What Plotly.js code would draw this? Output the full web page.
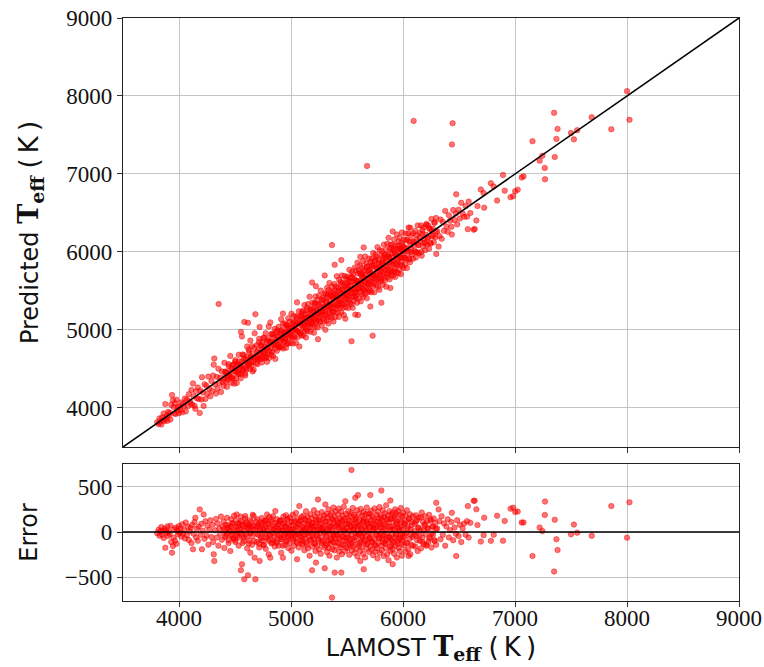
<!DOCTYPE html>
<html><head><meta charset="utf-8">
<script src="https://cdn.plot.ly/plotly-3.0.1.min.js"></script>
<style>html,body{margin:0;padding:0;background:#fff}#chart{width:764px;height:667px}</style>
</head><body><div id="chart"></div>
<script>
// LAMOST effective temperature (K)
const lamostTeff = [
 3805,3818,3826,3834,3842,3850,3857,3863,3871,3878,
 3884,3890,3897,3903,3910,3916,3923,3931,3938,3946,
 3952,3958,3964,3971,3977,3985,3992,3999,4006,4013,
 4021,4029,4037,4045,4053,4061,4070,4079,4088,4096,
 4104,4111,4118,4125,4131,4138,4146,4153,4160,4168,
 4176,4185,4192,4200,4205,4213,4220,4228,4236,4245,
 4253,4262,4271,4280,4290,
 4298,4305,4310,4315,4322,4330,4338,4345,4352,4360,
 4368,4375,4383,4390,4398,4405,4412,4420,4428,4436,
 4443,4450,4458,4465,4472,4479,4486,4492,4498,4354,
 4503,4509,4515,4521,4527,4533,4539,4545,4551,4553,
 4558,4562,4567,4572,4578,4583,4589,4592,4596,4602,
 4608,4614,4616,4620,4627,4633,4637,4640,4646,4652,
 4658,4664,4667,4675,4682,
 4690,4695,4700,4705,4710,4716,4720,4724,4729,4734,
 4739,4744,4749,4754,4759,4764,4769,4774,4779,4784,
 4786,4790,4795,4801,4806,4811,4815,4820,4825,4830,
 4835,4840,4845,4850,4855,4860,4865,4870,4875,4880,
 4885,4890,4895,4900,4905,
 4908,4912,4916,4920,4924,4928,4932,4936,4940,4944,
 4948,4952,4956,4960,4964,4968,4972,4976,4980,4984,
 4988,4992,4996,5000,5004,5008,5012,5016,5020,5024,
 5028,5032,5036,5040,5044,5048,5052,5054,5058,5062,
 5066,5070,5074,5078,5082,5086,5090,5094,5098,5100,
 5103,5106,5110,5113,5117,5120,5124,5127,5131,5134,
 5138,5141,5145,5148,5152,5155,5159,5162,5166,5169,
 5173,5176,5180,5183,5187,5188,5191,5194,5198,5201,
 5205,5208,5212,5215,5219,5222,5223,5226,5229,5233,
 5236,5240,5241,5244,5247,5251,5254,5258,5261,5265,
 5268,5272,5275,5279,5282,5286,5289,5293,5296,5300,
 5301,5304,5307,5310,5313,5316,5319,5322,5325,5328,
 5331,5334,5337,5340,5343,5346,5349,5352,5355,5358,
 5361,5364,5366,5367,5370,5373,5376,5379,5382,5385,
 5388,5390,5391,5394,5397,5400,5403,5406,5409,5412,
 5415,5418,5421,5424,5427,5430,5433,5436,5439,5442,
 5445,5448,5449,5451,5454,5457,5460,5463,5466,5469,
 5472,5475,5478,5481,5484,5485,5488,5491,5494,5497,
 5500,5503,5506,5509,5512,5515,5518,5521,5524,5527,
 5530,5533,5536,5539,5542,5545,5548,5551,5554,5557,
 5560,5563,5566,5569,5572,5574,5575,5578,5581,5584,
 5587,5590,5593,5596,5598,5599,5602,5605,5608,5611,
 5614,5617,5619,5620,5623,5626,5629,5632,5635,5638,
 5641,5644,5647,5649,5650,5653,5656,5659,5662,5665,
 5668,5671,5674,5677,5679,5680,5683,5686,5689,5692,
 5695,5698,5700,5540,
 5703,5706,5708,5709,5712,5715,5718,5721,5724,5727,
 5729,5730,5733,5736,5739,5742,5745,5748,5751,5754,
 5757,5760,5763,5766,5769,5772,5775,5778,5781,5784,
 5787,5790,5793,5796,5799,5802,5805,5807,5808,5811,
 5814,5817,5820,5823,5826,5829,5832,5835,5838,5841,
 5844,5847,5850,5853,5856,5859,5862,5865,5868,5871,
 5874,5877,5880,5883,5886,5887,5889,5892,5895,5898,
 5900,
 5903,5906,5908,5909,5912,5915,5918,5921,5924,5927,
 5930,5933,5936,5939,5942,5945,5948,5951,5954,5957,
 5960,5963,5966,5969,5972,5975,5978,5981,5984,5987,
 5990,5993,5996,5999,6003,6007,6011,6015,6019,6023,
 6027,6031,6035,6039,6043,6047,6050,6055,6059,6063,
 6065,6069,6074,6079,6084,6089,6095,6100,
 6105,6110,6115,6120,6125,6131,6137,6143,6149,6155,
 6161,6167,6173,6179,6185,6191,6197,6203,6209,6215,
 6221,6227,6233,6240,6247,6254,6261,6268,6275,6282,
 6289,6296,6297,6305,6318,
 6325,6335,6345,6356,6366,6377,6388,6399,6410,6421,
 6432,6436,6437,6443,6448,6460,6472,6475,6484,6496,
 6508,6520,6533,6546,6559,6572,6579,6586,6601,6631,
 6640,6655,6665,6695,6720,6725,6785,6810,6840,6893,
 6908,6960,6984,7002,7024,7060,7076,7156,7220,7244,
 7266,7268,7349,7355,7370,7380,7500,7526,7555,7685,
 7860,8000,8022,
 // dense core
 4402,4411,4419,4427,4436,4444,4452,4461,4469,4477,
 4486,4494,4503,4511,4520,4528,4537,4545,4554,4562,
 4571,4579,4588,4596,4605,4613,4622,4630,4639,4647,
 4655,4663,4672,4680,4689,4697,4706,4714,4723,4731,
 4740,4748,4757,4765,4774,4782,4791,4799,4808,4816,
 4825,4833,4842,4850,4859,4867,4876,4884,4893,4901,
 4910,4918,4927,4935,4944,4952,4961,4969,4978,4986,
 5005,5015,5025,5035,5045,5055,5065,5075,5085,5095,
 5105,5115,5125,5135,5145,5155,5165,5175,5185,5195,
 5205,5215,5225,5235,5245,5255,5265,5275,5285,5295,
 5305,5315,5325,5335,5345,5355,5365,5375,5385,5395,
 5405,5415,5425,5435,5445,5455,5465,5475,5485,5495,
 5505,5515,5525,5535,5545,5555,5565,5575,5585,5595,
 5605,5615,5625,5635,5645,5655,5665,5675,5685,5695,
 5705,5715,5725,5735,5745,5755,5765,5775,5785,5795,
 5805,5815,5825,5835,5845,5855,5865,5875,5885,5895,
 5905,5915,5925,5935,5945,5955,5965,5975,5985,5995,
 6005,6017,6029,6041,6053,6065,6077,6089,6101,6113,
 6125,6137,6149,6161,6173,6185,6197,6209,6221,6233,
 6245,6257,6269,6281,6293
];
// Error = LAMOST Teff − Predicted Teff (K)
const tempError = [
 -12,25,-40,8,55,-30,14,-66,38,-172,
 20,-8,62,-45,5,-22,70,-110,-227,-154,
 -60,30,-95,48,-130,12,-25,66,-8,40,
 -50,85,-18,22,-70,105,-35,58,-88,10,
 45,-120,78,-190,-20,110,157,-60,35,-95,
 60,249,-30,90,-190,15,194,-75,120,-40,
 70,-140,25,130,-55,
 80,-110,-245,-319,20,145,-60,95,-150,40,
 -20,170,-85,60,115,-175,10,-45,157,75,
 -120,35,-209,140,-30,90,-70,180,5,-979,
 -90,130,194,-40,60,-150,100,-10,170,-421,
 30,-355,-120,85,-60,-520,150,176,-25,110,
 -180,45,-476,75,-95,130,-227,-15,60,-140,
 190,20,176,-282,-520,
 60,-110,140,-30,85,-170,-319,20,105,-60,
 155,-95,40,-140,120,-20,70,-185,130,15,
 194,-75,90,-245,165,-40,-282,50,-125,110,
 -10,175,-90,30,-160,231,60,-105,140,-35,
 85,-150,20,120,-60,
 45,-227,130,-80,20,-282,170,-35,95,-140,
 60,-10,185,-95,25,140,-60,-175,80,5,
 -120,160,-40,70,-205,110,-15,190,-85,35,
 -150,125,0,-60,210,-110,55,-300,150,-25,
 90,-170,286,-45,120,-90,30,165,-130,10,
 60,-140,180,-30,95,-200,20,140,-75,230,
 -115,45,-10,165,-180,85,-50,120,-260,30,
 195,-95,70,-20,150,-421,-160,100,40,-70,
 240,-125,15,175,-210,60,-337,-35,110,-150,
 205,25,359,-85,130,-190,50,-10,160,-240,
 90,-60,220,-130,35,145,-100,5,185,-170,
 -399,70,304,-150,120,-40,200,-220,15,160,
 -95,250,-175,45,-260,110,-20,185,-130,60,
 -75,210,-722,-190,30,140,-110,270,-40,95,
 -200,-447,165,-65,230,-155,10,130,-280,75,
 -30,195,-120,50,260,-215,100,-80,150,-10,
 -170,225,-447,60,-245,115,-50,180,-140,35,
 280,-100,145,-210,20,340,-60,200,-165,90,
 40,-180,155,-60,230,-120,85,-250,10,175,
 -140,60,-30,210,-200,120,-75,265,-160,30,
 190,-95,140,-230,55,377,-10,165,-185,100,
 -45,240,-270,70,407,-125,15,200,-150,-20,
 130,-210,-319,80,255,-90,35,-170,180,-60,
 110,-240,220,-410,-15,150,-115,60,-280,195,
 -40,120,-185,270,-1424,25,-130,90,205,-75,
 165,-220,50,684,
 -70,200,407,-160,95,-20,235,-195,60,-110,
 802,170,-255,25,140,-80,260,-140,45,-215,
 115,-35,190,-175,70,-290,225,10,-120,155,
 -60,275,-230,90,-15,180,-150,458,50,-200,
 120,-70,240,-110,30,-265,165,-40,205,-130,
 75,-180,295,-20,140,-245,60,185,-95,-310,
 110,-55,230,-160,20,348,-205,150,-85,195,
 -30,
 140,-190,-355,70,215,-120,30,-240,175,-60,
 250,-150,95,-20,200,-280,120,-95,50,230,
 -175,15,-70,190,-210,135,-35,265,-130,60,
 -260,170,-90,25,210,-150,85,-40,180,-215,
 120,-10,240,-120,60,-190,-264,150,-75,195,
 -245,30,-140,110,-55,175,-1585,-30,
 90,-160,185,-40,130,-210,45,160,-95,20,
 -180,215,-60,110,-130,70,175,-20,-150,120,
 35,-110,190,-55,140,-170,60,-30,150,-90,
 100,-140,322,40,249,
 120,-80,175,-30,95,-150,60,140,-60,20,
 110,212,-942,-1207,-90,50,-20,-264,130,-45,
 80,-110,40,95,-30,120,286,-60,102,345,
 345,250,77,-105,-35,157,-97,-30,180,-95,
 122,258,268,222,226,105,106,-264,50,11,
 188,336,-435,136,-80,-198,-25,82,-7,-42,
 286,-62,328,
 // dense core
 30,-55,80,-20,45,-90,10,65,-40,100,
 -70,25,-110,55,-15,90,-60,35,120,-35,
 70,-100,15,85,-50,40,-125,60,-5,110,
 -45,70,-100,25,115,-20,60,-130,40,-75,
 95,-10,-145,50,130,-60,15,-95,80,-30,
 140,-115,35,-55,100,5,-120,70,-35,125,
 -80,20,-150,90,-25,60,-105,145,-45,30,
 20,-70,110,-30,55,-120,85,-10,130,-60,
 -95,40,-25,125,-140,70,5,-85,100,-45,
 60,-130,135,-15,-75,95,30,-110,50,-5,
 115,-55,-125,75,15,-90,140,-35,65,-115,
 -20,105,-70,45,-140,130,-50,10,85,-100,
 -30,120,-85,55,-130,25,90,-60,140,-20,
 70,-115,15,-45,125,-95,45,-135,100,-10,
 -65,130,-105,35,80,-145,-25,115,-70,55,
 150,-40,90,-120,20,-80,135,-55,60,-150,
 25,-100,145,-30,85,-125,40,-65,110,-15,
 -60,95,-120,30,140,-25,75,-150,10,115,
 -90,50,-35,160,-110,20,85,-140,45,-70,
 125,-15,60,-100,35
];
const predictedTeff = lamostTeff.map((t, i) => t - tempError[i]);

const teffRange = [3500, 9000];
const errRange = [-760, 750];
const xTicks = [4000, 5000, 6000, 7000, 8000, 9000];
const yTicks = [4000, 5000, 6000, 7000, 8000, 9000];
const errTicks = [-500, 0, 500];
const zeroLine = [0, 0];

const markerStyle = {color: 'rgba(255,0,0,0.55)', size: 5.5, line: {color: 'rgba(240,0,0,0.7)', width: 0.6}};
const tickFont = {family: 'Liberation Serif, serif', size: 23, color: '#111'};
const titleFont = {family: 'DejaVu Sans, sans-serif', size: 24, color: '#111'};
const thin = '\u2009';
const teffLabel = '<span style="font-family:DejaVu Serif;font-size:27px"><b>T<sub>eff</sub></b></span>';
const unitLabel = '<span style="font-size:26px">(' + thin + 'K' + thin + ')</span>';

const traces = [
  {x: lamostTeff, y: predictedTeff, xaxis: 'x2', yaxis: 'y', type: 'scatter', mode: 'markers', marker: markerStyle, hoverinfo: 'skip'},
  {x: teffRange, y: teffRange, xaxis: 'x2', yaxis: 'y', type: 'scatter', mode: 'lines', line: {color: '#000', width: 1.6}},
  {x: lamostTeff, y: tempError, xaxis: 'x', yaxis: 'y2', type: 'scatter', mode: 'markers', marker: markerStyle, hoverinfo: 'skip'},
  {x: teffRange, y: zeroLine, xaxis: 'x', yaxis: 'y2', type: 'scatter', mode: 'lines', line: {color: '#000', width: 1.6}}
];

const axisCommon = {
  showgrid: true, gridcolor: '#c4c4c4', gridwidth: 1,
  showline: true, mirror: true, linecolor: '#222', linewidth: 1.2,
  ticks: 'outside', ticklen: 5, tickcolor: '#333', tickwidth: 1,
  zeroline: false, tickfont: tickFont
};

const layout = {
  width: 764, height: 667,
  margin: {l: 123, r: 25, t: 18, b: 66},
  paper_bgcolor: '#fff', plot_bgcolor: '#fff',
  showlegend: false,
  xaxis: Object.assign({}, axisCommon, {domain: [0, 1], anchor: 'y2', range: teffRange, tickvals: xTicks,
    ticklabelstandoff: -9,
    title: {text: 'LAMOST ' + teffLabel + ' ' + unitLabel, font: titleFont, standoff: 8}}),
  xaxis2: Object.assign({}, axisCommon, {domain: [0, 1], anchor: 'y', matches: 'x', range: teffRange, tickvals: xTicks, showticklabels: false}),
  yaxis: Object.assign({}, axisCommon, {domain: [0.2642, 1], anchor: 'x2', range: teffRange, tickvals: yTicks,
    title: {text: 'Predicted ' + teffLabel + ' ' + unitLabel, font: titleFont, standoff: 20}}),
  yaxis2: Object.assign({}, axisCommon, {domain: [0, 0.235], anchor: 'x', range: errRange, tickvals: errTicks,
    title: {text: 'Error', font: titleFont, standoff: 20}})
};

Plotly.newPlot('chart', traces, layout, {displayModeBar: false, staticPlot: true});
</script>
</body></html>
